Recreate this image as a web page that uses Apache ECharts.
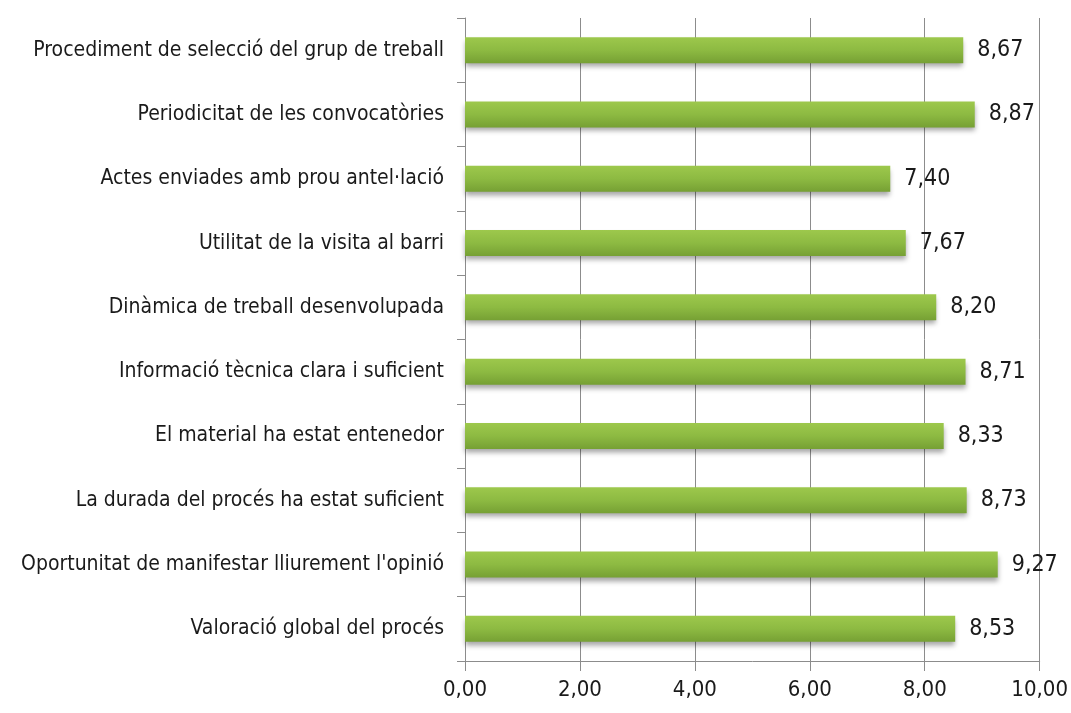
<!DOCTYPE html>
<html><head><meta charset="utf-8">
<script src="https://cdn.jsdelivr.net/npm/echarts@6/dist/echarts.min.js"></script>
<style>html,body{margin:0;padding:0;background:#fff}#c{width:1071px;height:713px}</style>
</head><body><div id="c"></div>
<script>
const categories = [
  "Procediment de selecció del grup de treball",
  "Periodicitat de les convocatòries",
  "Actes enviades amb prou antel·lació",
  "Utilitat de la visita al barri",
  "Dinàmica de treball desenvolupada",
  "Informació tècnica clara i suficient",
  "El material ha estat entenedor",
  "La durada del procés ha estat suficient",
  "Oportunitat de manifestar lliurement l'opinió",
  "Valoració global del procés"
];
const values = [8.67, 8.87, 7.40, 7.67, 8.20, 8.71, 8.33, 8.73, 9.27, 8.53];
const xTicks = [0, 2, 4, 6, 8, 10];

const FONT = "'DejaVu Sans Condensed', 'Liberation Sans Narrow', sans-serif";
const fmt = v => v.toFixed(2).replace('.', ',');
const chart = echarts.init(document.getElementById('c'));
chart.setOption({
  animation: false,
  grid: {left: 465, right: 31, top: 18, bottom: 52, containLabel: false},
  xAxis: {
    type: 'value', min: xTicks[0], max: xTicks[xTicks.length-1], interval: 2,
    axisLine: {show: true, lineStyle: {color: '#8c8c8c', width: 1}},
    axisTick: {show: true, length: 10, lineStyle: {color: '#8c8c8c'}},
    splitLine: {show: true, lineStyle: {color: '#8c8c8c', width: 1}},
    axisLabel: {formatter: fmt, fontFamily: FONT, fontSize: 22, color: '#1a1a1a', margin: 18}
  },
  yAxis: {
    type: 'category', data: categories, inverse: true,
    axisLine: {show: true, lineStyle: {color: '#8c8c8c', width: 1}},
    axisTick: {show: true, length: 8, lineStyle: {color: '#8c8c8c'}},
    axisLabel: {fontFamily: FONT, fontSize: 21, color: '#1a1a1a', margin: 21}
  },
  series: [{
    type: 'bar', data: values, barWidth: 26,
    itemStyle: {
      color: new echarts.graphic.LinearGradient(0, 0, 0, 1, [
        {offset: 0, color: '#9dc84c'},
        {offset: 0.5, color: '#8dba42'},
        {offset: 1, color: '#76a034'}
      ]),
      shadowColor: 'rgba(0,0,0,0.35)', shadowBlur: 5, shadowOffsetY: 4
    },
    label: {show: true, position: 'right', distance: 14, formatter: p => fmt(p.value),
      fontFamily: FONT, fontSize: 23, color: '#1a1a1a'}
  }]
});
</script></body></html>
